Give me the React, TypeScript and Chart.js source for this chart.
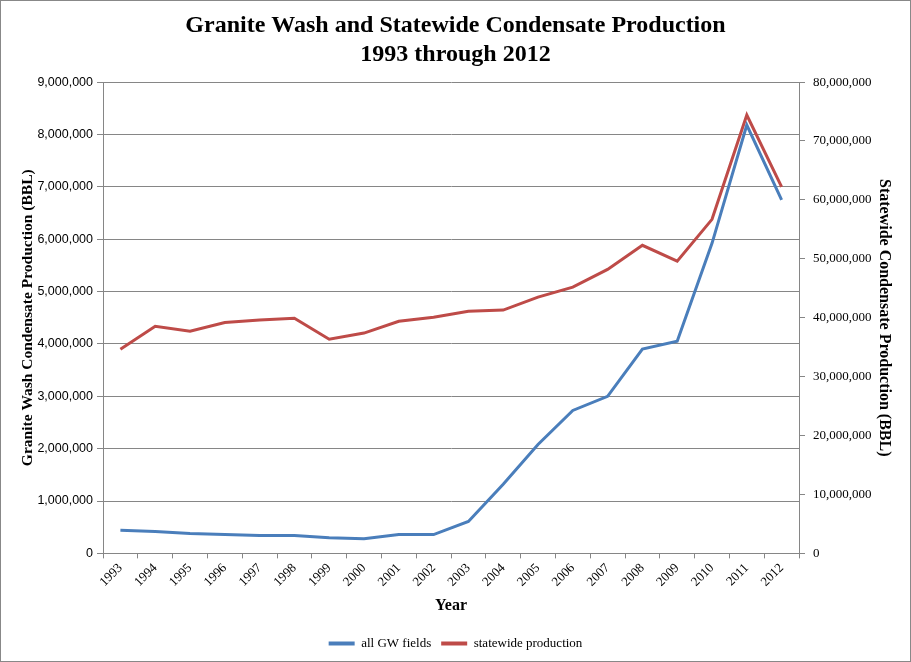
import React, { useEffect, useRef } from "react";
import { Chart, registerables } from "chart.js";

Chart.register(...registerables);

const years = ["1993","1994","1995","1996","1997","1998","1999","2000","2001","2002","2003","2004","2005","2006","2007","2008","2009","2010","2011","2012"];
const gwFields = [440000,420000,380000,360000,340000,340000,300000,280000,360000,360000,610000,1320000,2080000,2730000,3000000,3900000,4050000,5920000,8180000,6750000];
const statewide = [34650000,38560000,37700000,39200000,39600000,39900000,36350000,37400000,39400000,40100000,41100000,41300000,43500000,45200000,48200000,52300000,49600000,56700000,74400000,62200000];
const titleLines = ["Granite Wash and Statewide Condensate Production", "1993 through 2012"];
const leftTitle = "Granite Wash Condensate Production (BBL)";
const rightTitle = "Statewide Condensate Production (BBL)";
const xTitle = "Year";
const seriesNames = ["all GW fields", "statewide production"];

const BLUE = "#4A7EBB";
const RED = "#BE4B48";
const GRID = "#868686";

const frame = {
  id: "frame",
  beforeDraw(chart: any) {
    const c = chart.ctx;
    c.save();
    c.fillStyle = "#fff";
    c.fillRect(0, 0, chart.width, chart.height);
    c.restore();
  },
  afterDraw(chart: any) {
    const c = chart.ctx;
    c.save();
    c.strokeStyle = "#888";
    c.lineWidth = 1;
    c.strokeRect(0.5, 0.5, chart.width - 1, chart.height - 1);
    c.restore();
  },
};

export default function App() {
  const ref = useRef<HTMLCanvasElement>(null);
  useEffect(() => {
    if (!ref.current) return;
    const fmt = (v: any) => Number(v).toLocaleString("en-US");
    const chart = new Chart(ref.current, {
      type: "line",
      data: {
        labels: years,
        datasets: [
          { label: seriesNames[0], data: gwFields, borderColor: BLUE, backgroundColor: BLUE, borderWidth: 3, pointRadius: 0, tension: 0, yAxisID: "y" },
          { label: seriesNames[1], data: statewide, borderColor: RED, backgroundColor: RED, borderWidth: 3, pointRadius: 0, tension: 0, yAxisID: "y1" },
        ],
      },
      options: {
        animation: false,
        responsive: false,
        maintainAspectRatio: false,
        layout: { padding: { left: 0, right: 0, top: 0, bottom: 2 } },
        plugins: {
          title: {
            display: true,
            text: titleLines,
            color: "#000",
            font: { family: "Liberation Serif", weight: "bold", size: 24, lineHeight: 1.21 },
            padding: { top: 11, bottom: 13 },
          },
          legend: {
            display: true,
            position: "bottom",
            labels: {
              color: "#000",
              font: { family: "Liberation Serif", size: 13 },
              boxWidth: 26,
              boxHeight: 4,
              padding: 10,
              generateLabels: (ch: any) =>
                ch.data.datasets.map((d: any, i: number) => ({
                  text: d.label,
                  fillStyle: d.borderColor,
                  strokeStyle: d.borderColor,
                  lineWidth: 0,
                  hidden: false,
                  datasetIndex: i,
                  fontColor: "#000",
                })),
            },
          },
          tooltip: { enabled: false },
        },
        scales: {
          x: {
            type: "category",
            offset: true,
            grid: { offset: true, drawOnChartArea: false, color: GRID, tickLength: 5 },
            border: { color: GRID },
            ticks: { color: "#000", font: { family: "Liberation Serif", size: 13 }, maxRotation: 45, minRotation: 45, autoSkip: false, padding: 2 },
            title: { display: true, text: xTitle, color: "#000", font: { family: "Liberation Serif", weight: "bold", size: 16 }, padding: { top: 4, bottom: 12 } },
          },
          y: {
            position: "left",
            min: 0,
            max: 9000000,
            ticks: { stepSize: 1000000, color: "#000", font: { family: "Liberation Sans", size: 12.5 }, padding: 4, callback: fmt },
            grid: { color: GRID, tickLength: 6 },
            border: { color: GRID },
            title: { display: true, text: leftTitle, color: "#000", font: { family: "Liberation Serif", weight: "bold", size: 15.5 }, padding: { top: 19 } },
            afterFit: (s: any) => { s.width = 103; },
          },
          y1: {
            position: "right",
            min: 0,
            max: 80000000,
            ticks: { stepSize: 10000000, color: "#000", font: { family: "Liberation Serif", size: 13 }, padding: 8, callback: fmt },
            grid: { drawOnChartArea: false, color: GRID, tickLength: 6 },
            border: { color: GRID },
            title: { display: true, text: rightTitle, color: "#000", font: { family: "Liberation Serif", weight: "bold", size: 16 }, padding: { top: 17 } },
            afterFit: (s: any) => { s.width = 112; },
          },
        },
      },
      plugins: [frame],
    } as any);
    return () => chart.destroy();
  }, []);
  return (
    <div style={{ position: "fixed", left: 0, top: 0, width: 911, height: 662 }}>
      <canvas ref={ref} width={911} height={662} style={{ display: "block", width: 911, height: 662 }} />
    </div>
  );
}
